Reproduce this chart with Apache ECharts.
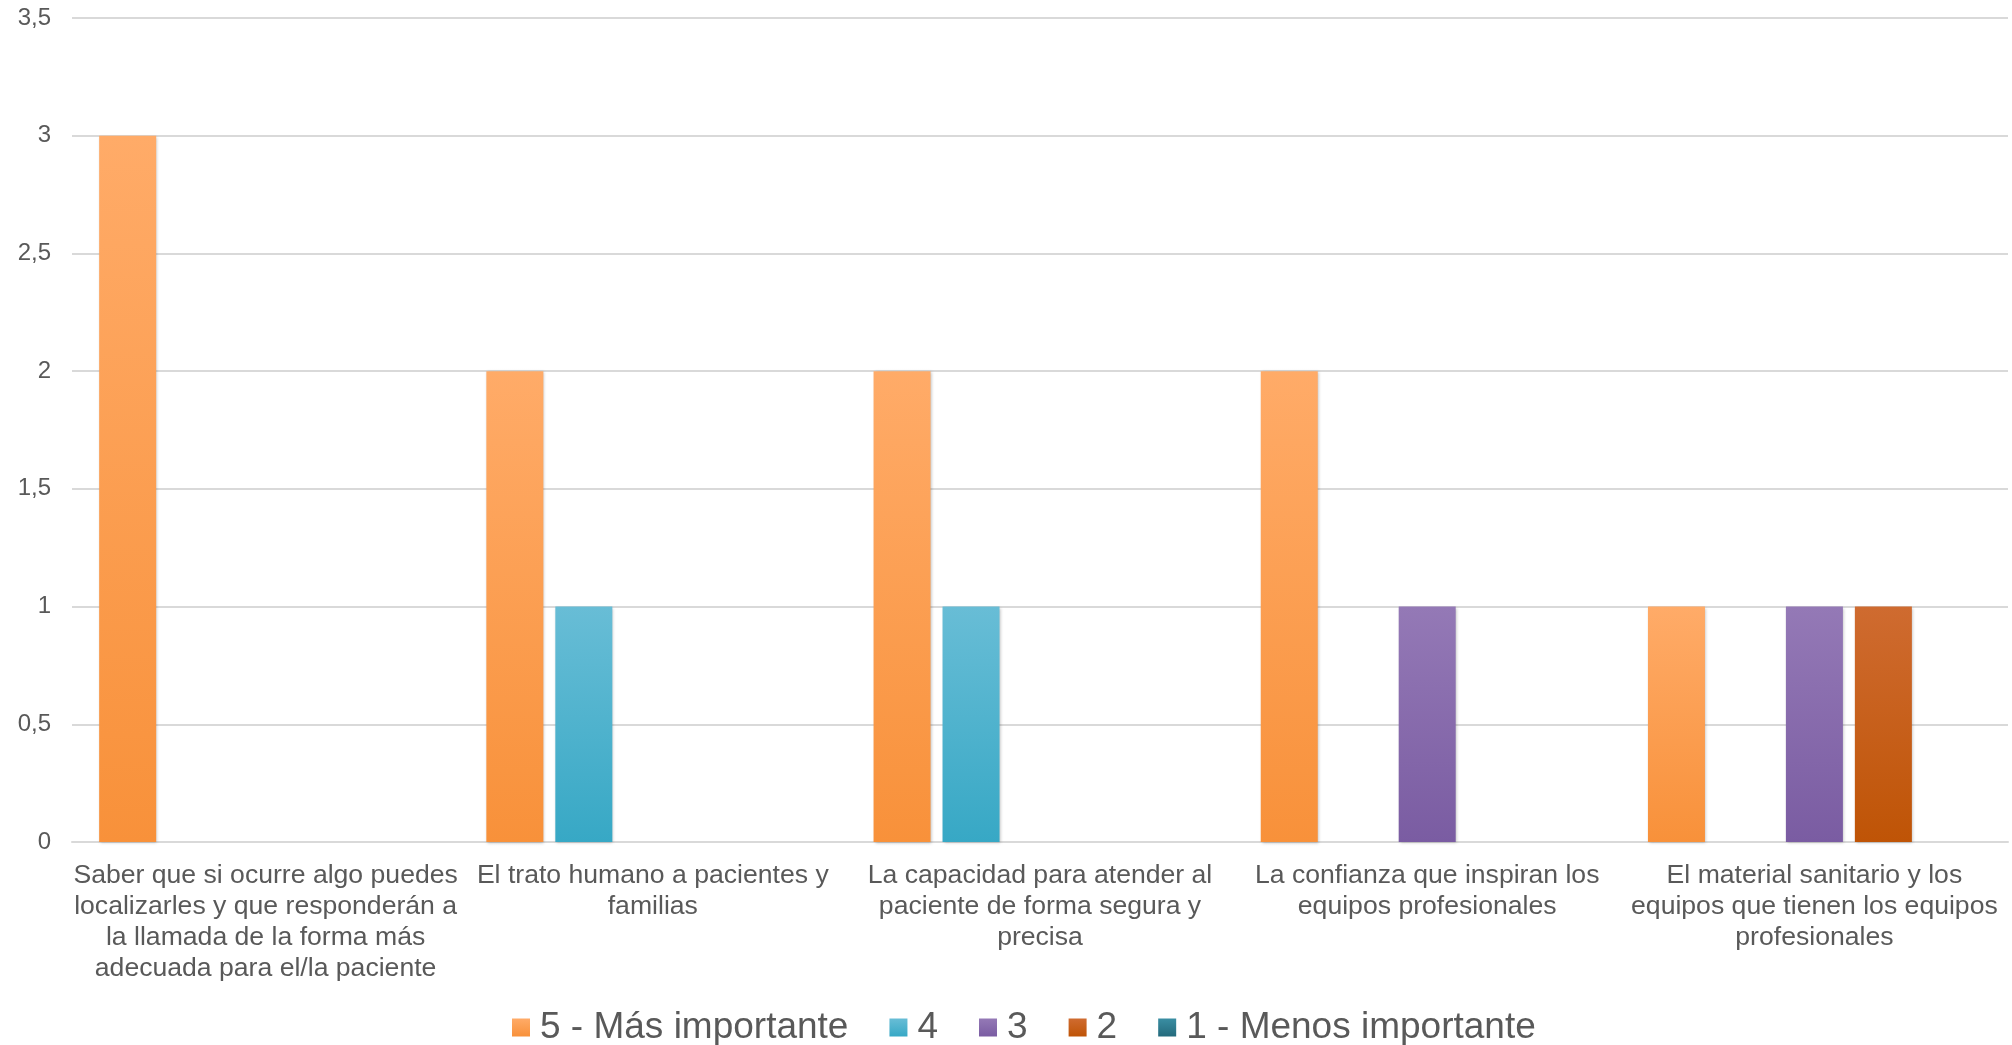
<!DOCTYPE html>
<html>
<head>
<meta charset="utf-8">
<script src="https://cdn.jsdelivr.net/npm/echarts@6/dist/echarts.min.js"></script>
<style>
  html, body { margin: 0; padding: 0; background: #fff; }
  #chart { width: 2012px; height: 1045px; }
</style>
</head>
<body>
<div id="chart"></div>
<script>
// Categories (line breaks as in the original chart)
const categories = [
  'Saber que si ocurre algo puedes\nlocalizarles y que responderán a\nla llamada de la forma más\nadecuada para el/la paciente',
  'El trato humano a pacientes y\nfamilias',
  'La capacidad para atender al\npaciente de forma segura y\nprecisa',
  'La confianza que inspiran los\nequipos profesionales',
  'El material sanitario y los\nequipos que tienen los equipos\nprofesionales'
];

const seriesNames = ['5 - Más importante', '4', '3', '2', '1 - Menos importante'];
const rank5 = [3, 2, 2, 2, 1];
const rank4 = [0, 1, 1, 0, 0];
const rank3 = [0, 0, 0, 1, 1];
const rank2 = [0, 0, 0, 0, 1];
const rank1 = [0, 0, 0, 0, 0];

const yTicks = [0, 0.5, 1, 1.5, 2, 2.5, 3, 3.5];

// top / bottom shades for each series
const shades = [
  ['#ffab68', '#f8913a'],
  ['#68bdd6', '#37a8c5'],
  ['#9479b6', '#7a5ca2'],
  ['#cf6b30', '#bf5406'],
  ['#3a8ea3', '#246a7c']
];

function grad(c) {
  return new echarts.graphic.LinearGradient(0, 0, 0, 1, [
    { offset: 0, color: c[0] },
    { offset: 1, color: c[1] }
  ]);
}

const chart = echarts.init(document.getElementById('chart'));

const allData = [rank5, rank4, rank3, rank2, rank1];

const option = {
  backgroundColor: '#ffffff',
  animation: false,
  grid: { left: 72, right: 4, top: 18, bottom: 203 },
  legend: {
    data: seriesNames,
    left: 507,
    top: 1004,
    icon: 'rect',
    itemWidth: 18,
    itemHeight: 18,
    itemGap: 41,
    textStyle: {
      color: '#595959',
      fontSize: 37,
      padding: [0, 0, 0, 5],
      fontFamily: 'Liberation Sans, Arial, sans-serif'
    }
  },
  xAxis: {
    type: 'category',
    data: categories,
    axisLine: { show: true, lineStyle: { color: '#d9d9d9', width: 2 } },
    axisTick: { show: false },
    axisLabel: {
      color: '#595959',
      fontSize: 26.6,
      lineHeight: 31,
      margin: 18,
      interval: 0,
      align: 'center',
      fontFamily: 'Liberation Sans, Arial, sans-serif'
    }
  },
  yAxis: {
    type: 'value',
    min: 0,
    max: 3.5,
    interval: 0.5,
    axisLine: { show: false },
    axisTick: { show: false },
    splitLine: { lineStyle: { color: '#d9d9d9', width: 2 } },
    axisLabel: {
      color: '#595959',
      fontSize: 24,
      margin: 21,
      fontFamily: 'Liberation Sans, Arial, sans-serif',
      formatter: v => yTicks.includes(v) ? String(v).replace('.', ',') : ''
    }
  },
  series: seriesNames.map((name, i) => ({
    name: name,
    type: 'bar',
    data: allData[i],
    barWidth: 57,
    barGap: '21%',
    itemStyle: {
      color: grad(shades[i]),
      shadowColor: 'rgba(0,0,0,0.25)',
      shadowBlur: 3,
      shadowOffsetX: 1,
      shadowOffsetY: 1
    }
  }))
};

chart.setOption(option);
</script>
</body>
</html>
